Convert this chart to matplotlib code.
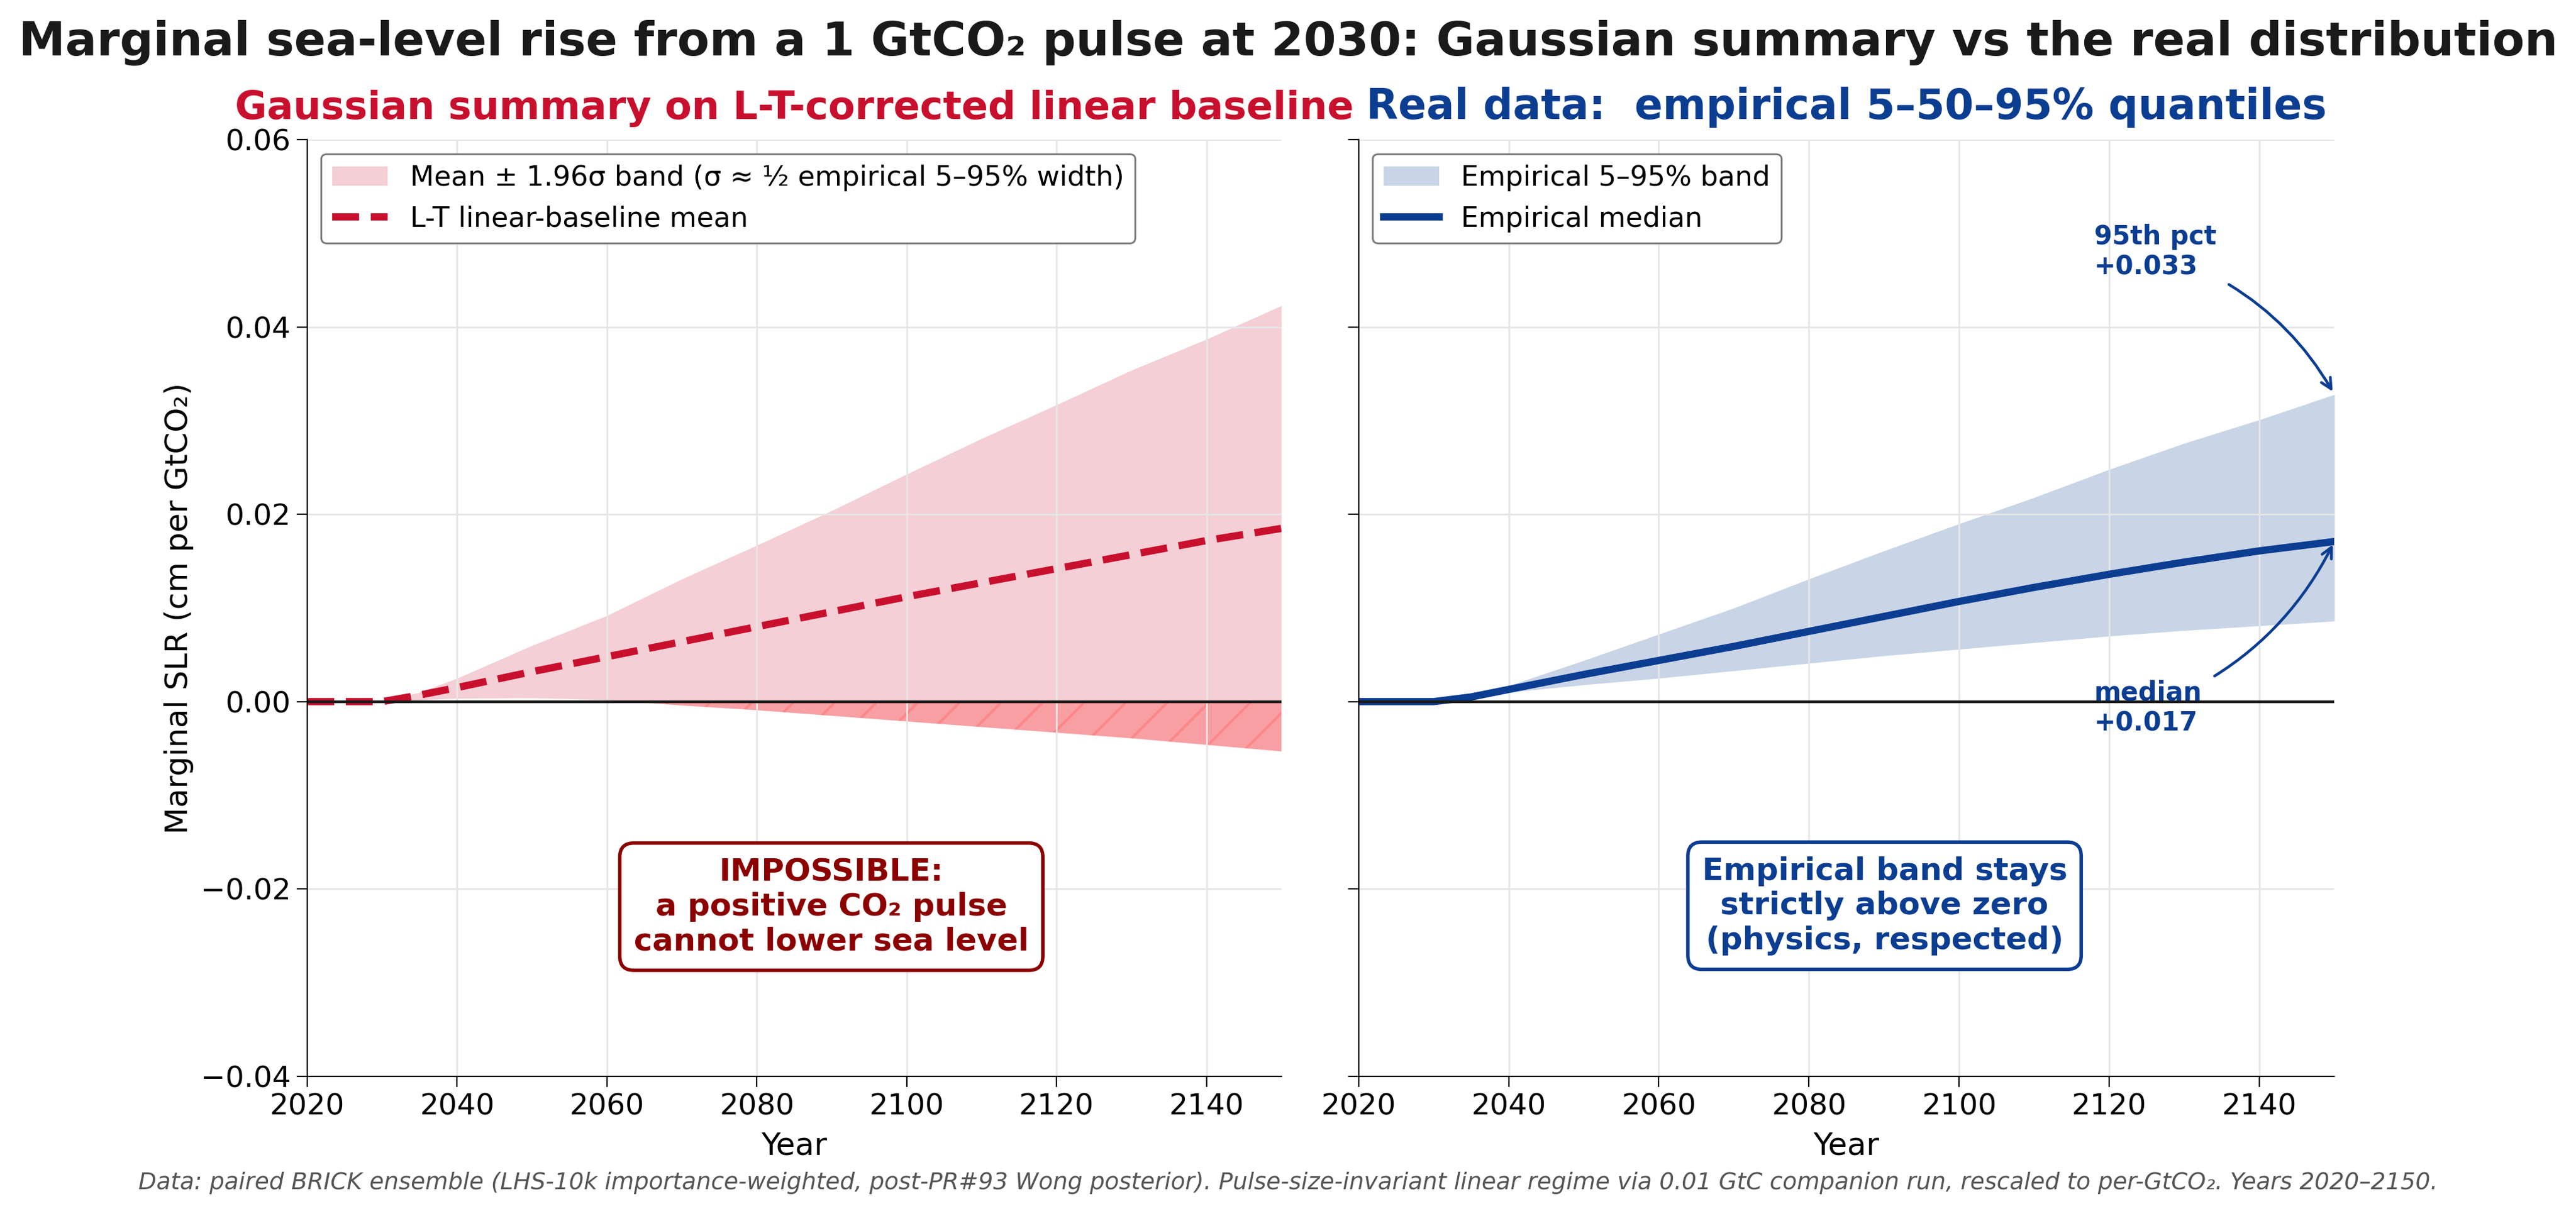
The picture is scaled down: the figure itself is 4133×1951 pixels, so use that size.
import numpy as np
import matplotlib
matplotlib.use("Agg")
import matplotlib.pyplot as plt

# ---------------------------------------------------------------
# Data, cm per GtCO2
# ---------------------------------------------------------------
years = [2020, 2025, 2030, 2035, 2040, 2050, 2060, 2070, 2080, 2090,
         2100, 2110, 2120, 2130, 2140, 2150]

# left panel: L-T corrected linear-baseline mean and its +-1.96 sigma band
lt_mean = [0.0, 0.0, 0.0, 0.0007, 0.0015, 0.0032, 0.0048, 0.0064, 0.0080,
           0.0096, 0.0112, 0.0127, 0.0142, 0.0157, 0.0172, 0.0185]
lt_upper = [0.0, 0.0, 0.0, 0.0010, 0.0025, 0.0060, 0.0092, 0.0131, 0.0167,
            0.0204, 0.0243, 0.0281, 0.0317, 0.0354, 0.0387, 0.0423]
lt_lower = [0.0, 0.0, 0.0, 0.0002, 0.00035, 0.0004, 0.0002, -0.0004, -0.0009,
            -0.0015, -0.0021, -0.0027, -0.0033, -0.0039, -0.0046, -0.0053]

# right panel: empirical quantiles
emp_q05 = [0.0, 0.0, 0.0, 0.0004, 0.0010, 0.0018, 0.0025, 0.0033, 0.0041,
           0.0049, 0.0056, 0.0063, 0.0070, 0.0076, 0.0081, 0.0086]
emp_q50 = [0.0, 0.0, 0.0, 0.0005, 0.0013, 0.0029, 0.0044, 0.0059, 0.0075,
           0.0091, 0.0107, 0.0122, 0.0136, 0.0149, 0.0161, 0.0171]
emp_q95 = [0.0, 0.0, 0.0, 0.0006, 0.0017, 0.0044, 0.0072, 0.0100, 0.0131,
           0.0161, 0.0190, 0.0218, 0.0248, 0.0276, 0.0301, 0.0328]

RED = "#c8102e"
DARKRED = "#8b0000"
BLUE = "#0b3d91"

yrs = np.array(years)
lo = np.array(lt_lower)
hi = np.array(lt_upper)

plt.rcParams["hatch.linewidth"] = 1.5
plt.rcParams["font.family"] = ["DejaVu Sans"]

fig = plt.figure(figsize=(20.665, 9.755), dpi=200)
ax1 = fig.add_axes([0.1193, 0.115, 0.3781, 0.770])
ax2 = fig.add_axes([0.5274, 0.115, 0.3788, 0.770], sharey=ax1)

# ---------------- left panel ----------------
ax1.fill_between(yrs, lo, hi, color=RED, alpha=0.2, linewidth=0,
                 label="Mean ± 1.96σ band (σ ≈ ½ empirical 5–95% width)")
ax1.fill_between(yrs, lo, 0, where=lo < 0, interpolate=True,
                 facecolor="#ff6666", edgecolor="#ff6b6b", alpha=0.45,
                 hatch="/", linewidth=0)
ax1.plot(yrs, lt_mean, color=RED, lw=4.2, ls="--", label="L-T linear-baseline mean")
ax1.axhline(0, color="#1a1a1a", lw=1.6)
ax1.set_title("Gaussian summary on L-T-corrected linear baseline",
              color=RED, fontsize=22.5, fontweight="bold", pad=12)
ax1.set_ylabel("Marginal SLR (cm per GtCO₂)", fontsize=18)
ax1.legend(loc="upper left", fontsize=16, framealpha=1, edgecolor="#777777")
ax1.text(0.538, 0.181,
         "IMPOSSIBLE:\na positive CO₂ pulse\ncannot lower sea level",
         transform=ax1.transAxes, ha="center", va="center", color=DARKRED,
         fontsize=18, fontweight="bold",
         bbox=dict(boxstyle="round,pad=0.45", fc="white", ec=DARKRED, lw=2))

# ---------------- right panel ----------------
ax2.fill_between(yrs, emp_q05, emp_q95, color=BLUE, alpha=0.22, linewidth=0,
                 label="Empirical 5–95% band")
ax2.plot(yrs, emp_q50, color=BLUE, lw=4.2, label="Empirical median")
ax2.axhline(0, color="#1a1a1a", lw=1.6)
ax2.set_title("Real data:  empirical 5–50–95% quantiles",
              color=BLUE, fontsize=24, fontweight="bold", pad=12)
ax2.legend(loc="upper left", fontsize=16, framealpha=1, edgecolor="#777777")
ax2.tick_params(labelleft=False)
ax2.annotate(f"95th pct\n+{emp_q95[-1]:.3f}", xy=(yrs[-1], emp_q95[-1]),
             xytext=(2118, 0.048), color=BLUE, fontsize=15,
             fontweight="bold", va="center",
             arrowprops=dict(arrowstyle="->", color=BLUE, lw=1.6,
                             connectionstyle="arc3,rad=-0.2",
                             shrinkA=6, shrinkB=2))
ax2.annotate(f"median\n+{emp_q50[-1]:.3f}", xy=(yrs[-1], emp_q50[-1]),
             xytext=(2118, -0.0007), color=BLUE, fontsize=15,
             fontweight="bold", va="center",
             arrowprops=dict(arrowstyle="->", color=BLUE, lw=1.6,
                             connectionstyle="arc3,rad=0.2",
                             shrinkA=6, shrinkB=2))
ax2.text(0.539, 0.182,
         "Empirical band stays\nstrictly above zero\n(physics, respected)",
         transform=ax2.transAxes, ha="center", va="center", color=BLUE,
         fontsize=18, fontweight="bold",
         bbox=dict(boxstyle="round,pad=0.45", fc="white", ec=BLUE, lw=2))

for ax in (ax1, ax2):
    ax.set_xlim(2020, 2150)
    ax.set_ylim(-0.04, 0.06)
    ax.set_xticks(range(2020, 2150, 20))
    ax.set_yticks([-0.04, -0.02, 0.0, 0.02, 0.04, 0.06])
    ax.set_xlabel("Year", fontsize=18, labelpad=6)
    ax.tick_params(labelsize=17, length=6)
    ax.grid(True, color="#e6e6e6", lw=1)
    ax.spines["top"].set_visible(False)
    ax.spines["right"].set_visible(False)

fig.suptitle("Marginal sea-level rise from a 1 GtCO₂ pulse at 2030: "
             "Gaussian summary vs the real distribution",
             fontsize=27, fontweight="bold", color="#1a1a1a", y=0.984)
fig.text(0.5, 0.027,
         "Data: paired BRICK ensemble (LHS-10k importance-weighted, post-PR#93 "
         "Wong posterior). Pulse-size-invariant linear regime via 0.01 GtC "
         "companion run, rescaled to per-GtCO₂. Years 2020–2150.",
         ha="center", va="center", fontsize=13.5, style="italic", color="#555555")

fig.savefig("out.png", dpi=200)
